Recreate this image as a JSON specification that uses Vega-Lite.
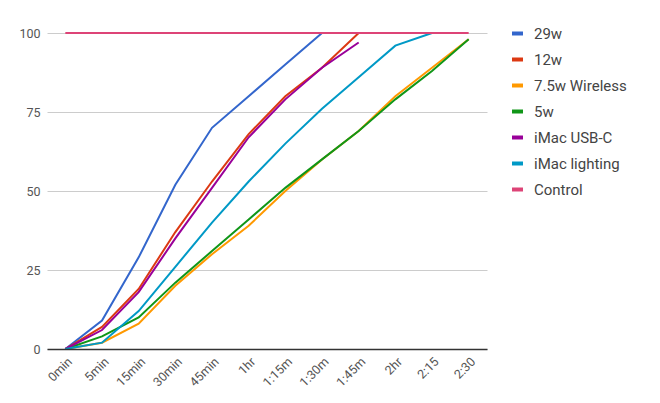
{
  "$schema": "https://vega.github.io/schema/vega-lite/v6.json",
  "width": 440,
  "height": 316,
  "autosize": "none",
  "padding": {"left": 47, "top": 33, "right": 173, "bottom": 54},
  "background": "white",
  "config": {
    "view": {"stroke": null},
    "font": "Roboto",
    "axis": {"labelColor": "#555555", "labelFontSize": 12.5, "labelFont": "Roboto"}
  },
  "data": {
    "values": [
      {"t": "0min", "s": "29w", "v": 0}, {"t": "5min", "s": "29w", "v": 9}, {"t": "15min", "s": "29w", "v": 29}, {"t": "30min", "s": "29w", "v": 52}, {"t": "45min", "s": "29w", "v": 70}, {"t": "1hr", "s": "29w", "v": 80}, {"t": "1:15m", "s": "29w", "v": 90}, {"t": "1:30m", "s": "29w", "v": 100},
      {"t": "0min", "s": "12w", "v": 0}, {"t": "5min", "s": "12w", "v": 7}, {"t": "15min", "s": "12w", "v": 19}, {"t": "30min", "s": "12w", "v": 37}, {"t": "45min", "s": "12w", "v": 53}, {"t": "1hr", "s": "12w", "v": 68}, {"t": "1:15m", "s": "12w", "v": 80}, {"t": "1:30m", "s": "12w", "v": 89}, {"t": "1:45m", "s": "12w", "v": 100},
      {"t": "0min", "s": "7.5w Wireless", "v": 0}, {"t": "5min", "s": "7.5w Wireless", "v": 2}, {"t": "15min", "s": "7.5w Wireless", "v": 8}, {"t": "30min", "s": "7.5w Wireless", "v": 20}, {"t": "45min", "s": "7.5w Wireless", "v": 30}, {"t": "1hr", "s": "7.5w Wireless", "v": 39}, {"t": "1:15m", "s": "7.5w Wireless", "v": 50}, {"t": "1:30m", "s": "7.5w Wireless", "v": 60}, {"t": "1:45m", "s": "7.5w Wireless", "v": 69}, {"t": "2hr", "s": "7.5w Wireless", "v": 80}, {"t": "2:15", "s": "7.5w Wireless", "v": 89}, {"t": "2:30", "s": "7.5w Wireless", "v": 98},
      {"t": "0min", "s": "5w", "v": 0}, {"t": "5min", "s": "5w", "v": 4}, {"t": "15min", "s": "5w", "v": 10}, {"t": "30min", "s": "5w", "v": 21}, {"t": "45min", "s": "5w", "v": 31}, {"t": "1hr", "s": "5w", "v": 41}, {"t": "1:15m", "s": "5w", "v": 51}, {"t": "1:30m", "s": "5w", "v": 60}, {"t": "1:45m", "s": "5w", "v": 69}, {"t": "2hr", "s": "5w", "v": 79}, {"t": "2:15", "s": "5w", "v": 88}, {"t": "2:30", "s": "5w", "v": 98},
      {"t": "0min", "s": "iMac USB-C", "v": 0}, {"t": "5min", "s": "iMac USB-C", "v": 6}, {"t": "15min", "s": "iMac USB-C", "v": 18}, {"t": "30min", "s": "iMac USB-C", "v": 35}, {"t": "45min", "s": "iMac USB-C", "v": 51}, {"t": "1hr", "s": "iMac USB-C", "v": 67}, {"t": "1:15m", "s": "iMac USB-C", "v": 79}, {"t": "1:30m", "s": "iMac USB-C", "v": 89}, {"t": "1:45m", "s": "iMac USB-C", "v": 97},
      {"t": "0min", "s": "iMac lighting", "v": 0}, {"t": "5min", "s": "iMac lighting", "v": 2}, {"t": "15min", "s": "iMac lighting", "v": 12}, {"t": "30min", "s": "iMac lighting", "v": 26}, {"t": "45min", "s": "iMac lighting", "v": 40}, {"t": "1hr", "s": "iMac lighting", "v": 53}, {"t": "1:15m", "s": "iMac lighting", "v": 65}, {"t": "1:30m", "s": "iMac lighting", "v": 76}, {"t": "1:45m", "s": "iMac lighting", "v": 86}, {"t": "2hr", "s": "iMac lighting", "v": 96}, {"t": "2:15", "s": "iMac lighting", "v": 100},
      {"t": "0min", "s": "Control", "v": 100}, {"t": "5min", "s": "Control", "v": 100}, {"t": "15min", "s": "Control", "v": 100}, {"t": "30min", "s": "Control", "v": 100}, {"t": "45min", "s": "Control", "v": 100}, {"t": "1hr", "s": "Control", "v": 100}, {"t": "1:15m", "s": "Control", "v": 100}, {"t": "1:30m", "s": "Control", "v": 100}, {"t": "1:45m", "s": "Control", "v": 100}, {"t": "2hr", "s": "Control", "v": 100}, {"t": "2:15", "s": "Control", "v": 100}, {"t": "2:30", "s": "Control", "v": 100}
    ]
  },
  "mark": {"type": "line", "strokeWidth": 2},
  "encoding": {
    "x": {
      "field": "t",
      "type": "ordinal",
      "sort": ["0min", "5min", "15min", "30min", "45min", "1hr", "1:15m", "1:30m", "1:45m", "2hr", "2:15", "2:30"],
      "scale": {"type": "point", "padding": 0.5},
      "title": null,
      "axis": {"labelAngle": -45, "ticks": false, "domain": true, "domainColor": "#333333", "domainWidth": 1.5, "labelPadding": 6, "labelAlign": "right", "labelBaseline": "top", "zindex": 1}
    },
    "y": {
      "field": "v",
      "type": "quantitative",
      "scale": {"domain": [0, 100]},
      "title": null,
      "axis": {"values": [0, 25, 50, 75, 100], "domain": false, "ticks": false, "gridColor": "#cccccc", "labelPadding": 7}
    },
    "color": {
      "field": "s",
      "type": "nominal",
      "sort": ["29w", "12w", "7.5w Wireless", "5w", "iMac USB-C", "iMac lighting", "Control"],
      "scale": {
        "domain": ["29w", "12w", "7.5w Wireless", "5w", "iMac USB-C", "iMac lighting", "Control"],
        "range": ["#3366cc", "#dc3912", "#ff9900", "#109618", "#990099", "#0099c6", "#dd4477"]
      },
      "legend": {
        "title": null,
        "orient": "none",
        "legendX": 463,
        "legendY": -7,
        "symbolType": "stroke",
        "symbolStrokeWidth": 4,
        "symbolSize": 120,
        "labelFontSize": 15,
        "labelColor": "#444444",
        "labelOffset": 9,
        "rowPadding": 9
      }
    }
  }
}
